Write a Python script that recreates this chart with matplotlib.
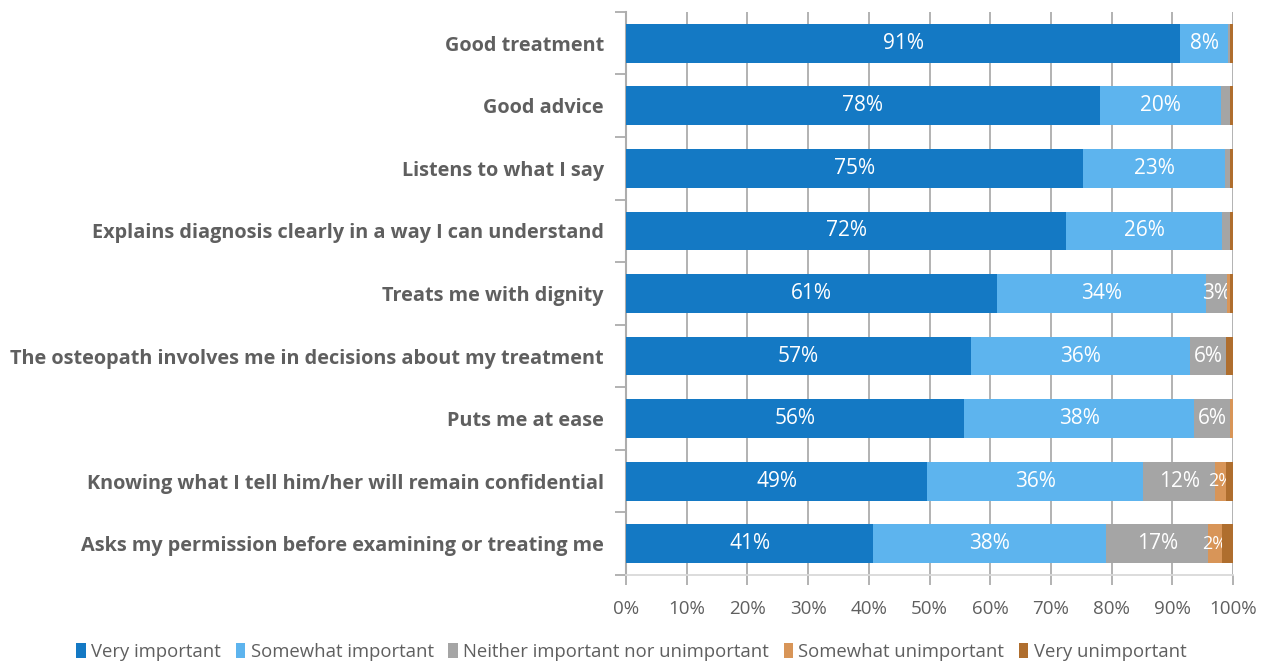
import numpy as np
import matplotlib
matplotlib.use('Agg')
import matplotlib.pyplot as plt
from matplotlib.ticker import FixedLocator, PercentFormatter

categories = [
    'Good treatment',
    'Good advice',
    'Listens to what I say',
    'Explains diagnosis clearly in a way I can understand',
    'Treats me with dignity',
    'The osteopath involves me in decisions about my treatment',
    'Puts me at ease',
    'Knowing what I tell him/her will remain confidential',
    'Asks my permission before examining or treating me',
]
series = ['Very important', 'Somewhat important',
          'Neither important nor unimportant', 'Somewhat unimportant',
          'Very unimportant']

very_imp = [91.3, 78.0, 75.3, 72.5, 61.1, 56.8, 55.7, 49.6, 40.7]
somewhat_imp = [7.9, 20.0, 23.4, 25.7, 34.4, 36.1, 37.9, 35.6, 38.4]
neither = [0.3, 1.5, 0.8, 1.3, 3.5, 6.0, 5.9, 11.9, 16.8]
somewhat_unimp = [0.0, 0.0, 0.0, 0.0, 0.5, 0.0, 0.5, 1.7, 2.2]
very_unimp = [0.5, 0.5, 0.5, 0.5, 0.5, 1.1, 0.0, 1.2, 1.9]

# labels shown on the bars ('' = no label)
lab_very_imp = ['91%', '78%', '75%', '72%', '61%', '57%', '56%', '49%', '41%']
lab_somewhat_imp = ['8%', '20%', '23%', '26%', '34%', '36%', '38%', '36%', '38%']
lab_neither = ['', '', '', '', '3%', '6%', '6%', '12%', '17%']
lab_somewhat_unimp = ['', '', '', '', '', '', '', '2%', '2%']
lab_very_unimp = ['', '', '', '', '', '', '', '', '']

colors = ['#1479C4', '#5DB4EE', '#A5A5A5', '#D89558', '#AF6E2E']
TEXT = '#5F5F5F'
GRID = '#ADADAD'

plt.rcParams['font.family'] = ['Open Sans', 'DejaVu Sans']

fig = plt.figure(figsize=(12.63, 6.63), dpi=100)
ax = fig.add_axes([0.4957, 0.1327, 0.4806, 0.8493])

values = [very_imp, somewhat_imp, neither, somewhat_unimp, very_unimp]
labels = [lab_very_imp, lab_somewhat_imp, lab_neither, lab_somewhat_unimp, lab_very_unimp]

y = np.arange(len(categories))
left = np.zeros(len(categories))
for vals, labs, col, name in zip(values, labels, colors, series):
    vals = np.array(vals)
    bars = ax.barh(y, vals, left=left, height=0.62, color=col, label=name, zorder=3)
    fs = 13 if name == 'Somewhat unimportant' else 15
    ax.bar_label(bars, labels=labs, label_type='center', color='white',
                 fontsize=fs)
    left += vals

ax.set_xlim(0, 100)
ax.set_ylim(len(categories) - 0.5, -0.5)
ax.xaxis.set_major_locator(FixedLocator(np.arange(0, 101, 10)))
ax.xaxis.set_major_formatter(PercentFormatter(decimals=0))
ax.grid(axis='x', color=GRID, linewidth=1.3, zorder=0)

ax.set_yticks(y)
ax.set_yticklabels(categories, fontsize=14.3, fontweight='bold', color=TEXT)
ax.set_yticks(np.arange(len(categories) + 1) - 0.5, minor=True)
ax.tick_params(axis='y', which='major', length=0, pad=16)
ax.tick_params(axis='y', which='minor', length=8, color=GRID, width=1.3)
ax.tick_params(axis='x', length=7, color=GRID, width=1.3, labelsize=13.5,
               labelcolor=TEXT, pad=11)

for s in ['top', 'right']:
    ax.spines[s].set_visible(False)
ax.spines['left'].set_color(GRID)
ax.spines['left'].set_linewidth(1.5)
ax.spines['bottom'].set_color('#D9D9D9')
ax.spines['bottom'].set_linewidth(1.3)

fig.legend(loc='lower center', bbox_to_anchor=(0.5, -0.022), ncol=5,
           frameon=False, fontsize=13.3, labelcolor=TEXT, handlelength=0.5,
           handleheight=0.85, handletextpad=0.3, columnspacing=0.8)

fig.savefig('out.png', dpi=100)
